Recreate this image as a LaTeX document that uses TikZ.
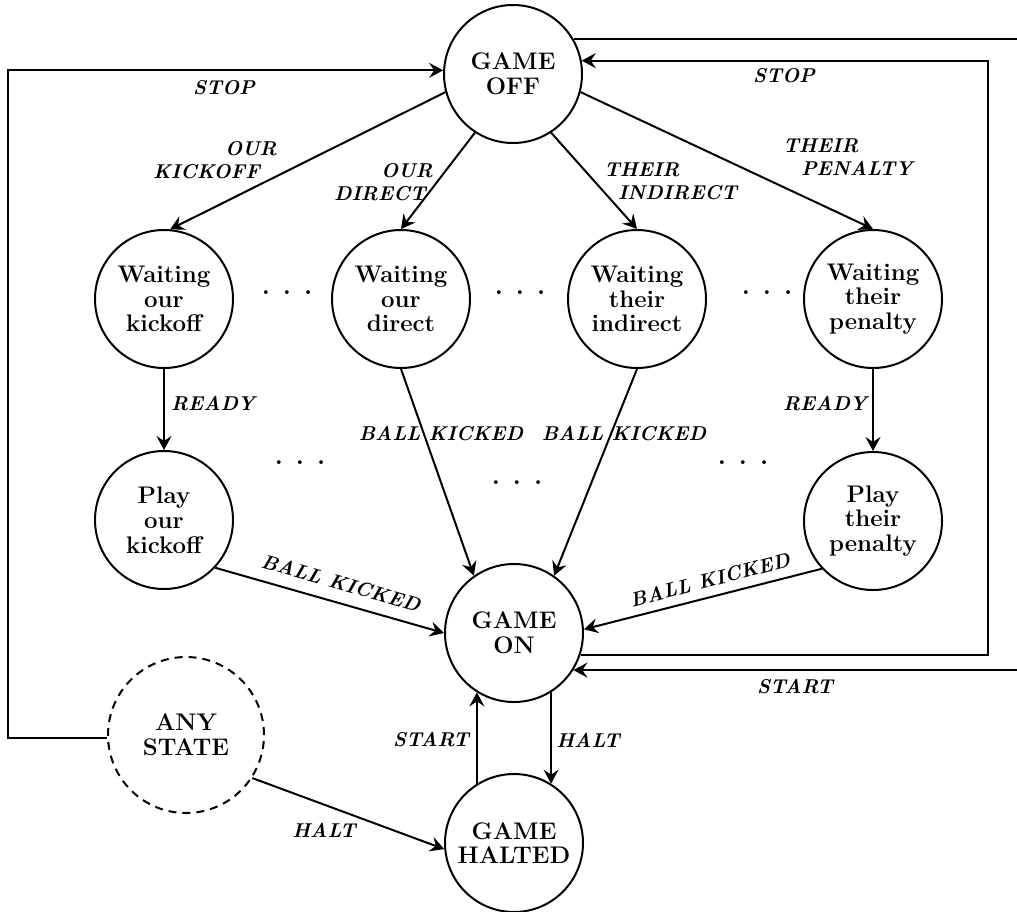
\documentclass[tikz,border=0pt]{standalone}
\usetikzlibrary{arrows.meta}
\begin{document}
\begin{tikzpicture}[x=0.5pt,y=-0.5pt,line width=1pt,
  >={Stealth[length=7pt,width=7.5pt,inset=2.5pt]},
  state/.style={circle,draw,minimum size=69pt,inner sep=0pt,align=center,
    font=\fontsize{12}{12.4}\selectfont\bfseries},
  anystate/.style={state,minimum size=78pt,dash pattern=on 4pt off 3pt},
  lab/.style={inner sep=0pt,font=\fontsize{10}{11.5}\selectfont\bfseries\itshape},
  dotsnode/.style={inner sep=0pt,font=\fontsize{13}{13}\selectfont\bfseries}]
\useasboundingbox (0,0) rectangle (1017,911);
\clip (0,0) rectangle (1017,911);

% states
\node[state] (off) at (513,74) {GAME\\OFF};
\node[state] (wok) at (164,299) {Waiting\\our\\kickoff};
\node[state] (wod) at (401,299) {Waiting\\our\\direct};
\node[state] (wti) at (637,299) {Waiting\\their\\indirect};
\node[state] (wtp) at (873,299) {Waiting\\their\\penalty};
\node[state] (pok) at (164,520) {Play\\our\\kickoff};
\node[state] (ptp) at (873,521) {Play\\their\\penalty};
\node[state] (on) at (514,633) {GAME\\ON};
\node[state] (halt) at (514,843) {GAME\\HALTED};
\node[anystate] (any) at (186,735) {ANY\\STATE};

% dots
\node[dotsnode] (d1) at (287,293) {. . .};
\node[dotsnode] (d2) at (520,293) {. . .};
\node[dotsnode] (d3) at (767,293) {. . .};
\node[dotsnode] (d4) at (300,463) {. . .};
\node[dotsnode] (d5) at (517,483) {. . .};
\node[dotsnode] (d6) at (743,463) {. . .};

% helper coordinates
\coordinate (lft) at (8,0);
\coordinate (rgt) at (988,0);
\coordinate (far) at (1040,0);

% connectors
\draw[->] (off.195) -- (wok.85);
\draw[->] (off.237) -- (wod.north);
\draw[->] (off.303) -- (wti.north);
\draw[->] (off.345) -- (wtp.north);
\draw[->] (wok) -- (pok);
\draw[->] (wtp) -- (ptp);
\draw[->] (wod.south) -- (on.125);
\draw[->] (wti.south) -- (on.55);
\draw[->] (pok.-43) -- (on.west);
\draw[->] (ptp.223) -- (on.3);
\draw[->] (on.-58) -- (on.-58 |- halt.58);
\draw[->] (halt.122) -- (halt.122 |- on.-122);
\draw[->] (any.-33) -- (halt.185);
\draw[->] (any.182) -| (lft |- off.177) -- (off.177);
\draw[->] (on.-18) -| (rgt |- off.11) -- (off.11);
\draw[->] (off.30) -| (far |- on.-32) -- (on.-32);

% labels
\node[lab] (s1) at (224,88) {STOP};
\node[lab] (s2) at (784,76) {STOP};
\node[lab] (s3) at (795,687) {START};
\node[lab,align=left,anchor=north west] (k1) at (152,140) {\hspace*{36pt}OUR\\KICKOFF};
\node[lab,align=left,anchor=north west] (k2) at (333,162) {\hspace*{23.5pt}OUR\\DIRECT};
\node[lab,align=left,anchor=north west] (k3) at (603,162) {THEIR\\\hspace*{7pt}INDIRECT};
\node[lab,align=left,anchor=north west] (k4) at (782,138) {THEIR\\\hspace*{9pt}PENALTY};
\node[lab,anchor=west] (r1) at (170,404) {READY};
\node[lab] (r2) at (825,404) {READY};
\node[lab] (b1) at (441,434) {BALL KICKED};
\node[lab] (b2) at (624,434) {BALL KICKED};
\node[lab,rotate=-16] (b3) at (341,583) {BALL KICKED};
\node[lab,rotate=14.5] (b4) at (710,580) {BALL KICKED};
\node[lab] (h1) at (588,740) {HALT};
\node[lab] (h2) at (431,740) {START};
\node[lab] (h3) at (324,830) {HALT};
\end{tikzpicture}
\end{document}
